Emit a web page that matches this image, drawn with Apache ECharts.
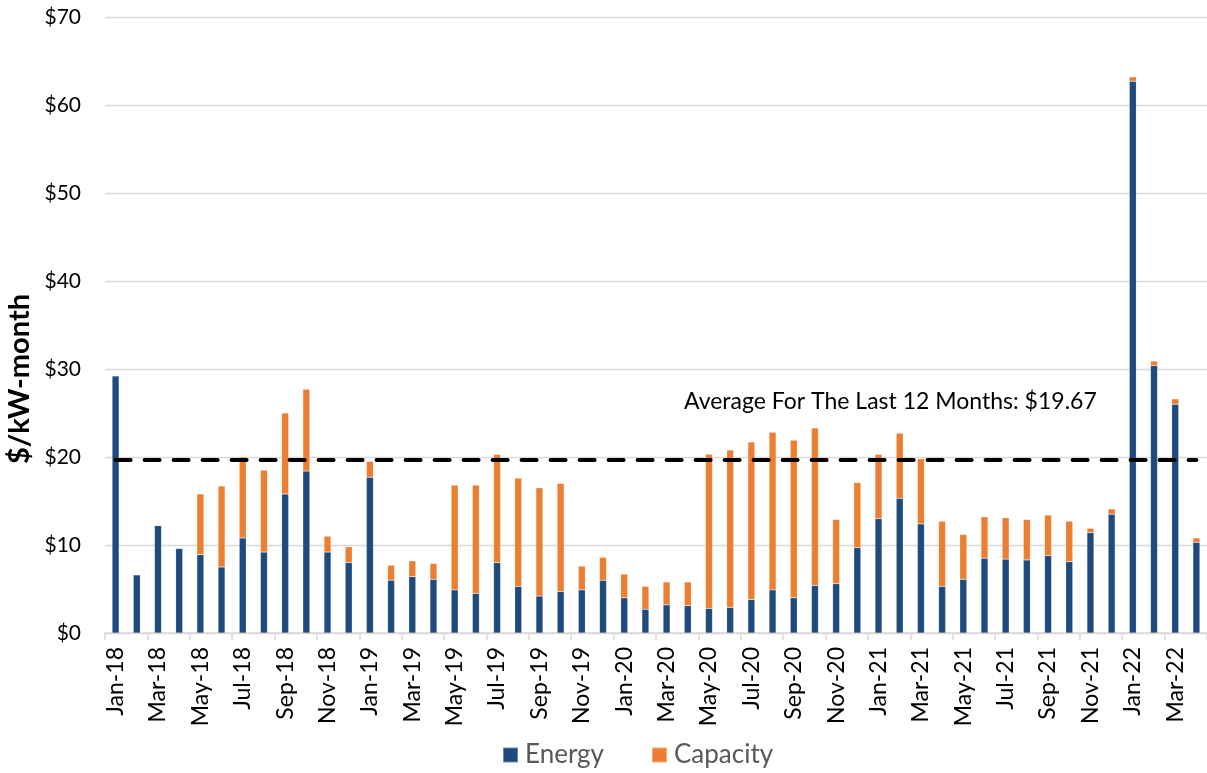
<!DOCTYPE html>
<html>
<head>
<meta charset="utf-8">
<script src="https://cdn.jsdelivr.net/npm/echarts@6/dist/echarts.min.js"></script>
<style>
  html, body { margin: 0; padding: 0; background: #fff; }
  #chart { width: 1207px; height: 773px; }
</style>
</head>
<body>
<div id="chart"></div>
<script>
// Monthly cost components, $/kW-month
const months = [
  'Jan-18','Feb-18','Mar-18','Apr-18','May-18','Jun-18','Jul-18','Aug-18','Sep-18','Oct-18','Nov-18','Dec-18',
  'Jan-19','Feb-19','Mar-19','Apr-19','May-19','Jun-19','Jul-19','Aug-19','Sep-19','Oct-19','Nov-19','Dec-19',
  'Jan-20','Feb-20','Mar-20','Apr-20','May-20','Jun-20','Jul-20','Aug-20','Sep-20','Oct-20','Nov-20','Dec-20',
  'Jan-21','Feb-21','Mar-21','Apr-21','May-21','Jun-21','Jul-21','Aug-21','Sep-21','Oct-21','Nov-21','Dec-21',
  'Jan-22','Feb-22','Mar-22','Apr-22'
];

const energy = [
  29.2, 6.6, 12.2, 9.6, 8.9, 7.5, 10.8, 9.2, 15.8, 18.4, 9.2, 8.0,
  17.7, 6.0, 6.4, 6.1, 4.9, 4.5, 8.0, 5.3, 4.2, 4.7, 4.9, 6.0,
  4.0, 2.7, 3.2, 3.1, 2.8, 2.9, 3.8, 4.9, 4.0, 5.4, 5.6, 9.7,
  13.0, 15.3, 12.4, 5.3, 6.1, 8.5, 8.4, 8.3, 8.8, 8.1, 11.4, 13.5,
  62.7, 30.4, 26.0, 10.3
];

const capacity = [
  -0.1, -0.1, -0.1, -0.1, 6.9, 9.2, 9.2, 9.3, 9.2, 9.3, 1.8, 1.8,
  1.8, 1.7, 1.8, 1.8, 11.9, 12.3, 12.3, 12.3, 12.3, 12.3, 2.7, 2.6,
  2.7, 2.6, 2.6, 2.7, 17.5, 17.9, 17.9, 17.9, 17.9, 17.9, 7.3, 7.4,
  7.3, 7.4, 7.4, 7.4, 5.1, 4.7, 4.7, 4.6, 4.6, 4.6, 0.5, 0.6,
  0.5, 0.5, 0.6, 0.5
];

const yTicks = [0, 10, 20, 30, 40, 50, 60, 70];
const average12 = 19.67;
const averageLabel = 'Average For The Last 12 Months: $' + average12.toFixed(2);

const FONT = 'Lato, "Open Sans", sans-serif';
const BLUE = '#1f4a7c';
const ORANGE = '#ed7d31';

const chart = echarts.init(document.getElementById('chart'), null, { renderer: 'canvas' });

chart.setOption({
  animation: false,
  backgroundColor: '#ffffff',
  grid: { left: 105, right: -7, top: 17, bottom: 140, containLabel: false },
  legend: {
    top: 737,
    left: 497,
    itemWidth: 15,
    itemHeight: 15,
    itemGap: 47,
    icon: 'rect',
    textStyle: { fontFamily: FONT, fontSize: 26, color: '#595959', padding: [0, 0, 0, 2] },
    data: ['Energy', 'Capacity']
  },
  xAxis: {
    type: 'category',
    data: months,
    boundaryGap: true,
    axisLine: { show: true, lineStyle: { color: '#d9d9d9', width: 1.5 } },
    axisTick: { show: true, interval: 1, length: 7, lineStyle: { color: '#d9d9d9', width: 1.5 } },
    axisLabel: {
      interval: 1,
      rotate: 90,
      margin: 14,
      fontFamily: FONT,
      fontSize: 23,
      color: '#000'
    },
    splitLine: { show: false }
  },
  yAxis: {
    type: 'value',
    min: yTicks[0],
    max: yTicks[yTicks.length - 1],
    interval: 10,
    axisLine: { show: false },
    axisTick: { show: false },
    axisLabel: {
      margin: 24,
      fontFamily: FONT,
      fontSize: 21,
      color: '#000',
      formatter: v => '$' + v
    },
    splitLine: { lineStyle: { color: '#d9d9d9', width: 1.3 } }
  },
  series: [
    {
      name: 'Energy',
      type: 'bar',
      stack: 'cost',
      barWidth: 7,
      itemStyle: { color: BLUE, borderColor: 'rgba(255,255,255,0.35)', borderWidth: 0.5 },
      data: energy
    },
    {
      name: 'Capacity',
      type: 'bar',
      stack: 'cost',
      barWidth: 7,
      itemStyle: { color: ORANGE, borderColor: 'rgba(255,255,255,0.35)', borderWidth: 0.5 },
      data: capacity,
      markLine: {
        silent: true,
        symbol: 'none',
        lineStyle: { color: '#000', width: 4, type: [15, 14], cap: 'round' },
        label: { show: false },
        data: [[
          { xAxis: 0, yAxis: average12 },
          { xAxis: months.length - 1, yAxis: average12 }
        ]]
      }
    }
  ]
});

// Caption for the 12-month average, placed just above the dashed line
const avgY = chart.convertToPixel({ yAxisIndex: 0 }, average12);
chart.setOption({
  graphic: [
    {
      type: 'text',
      left: 684,
      top: avgY - 70,
      style: { text: averageLabel, fontFamily: FONT, fontSize: 23, fill: '#000' }
    },
    {
      type: 'text',
      x: 20,
      y: 379,
      rotation: Math.PI / 2,
      style: {
        text: '$/kW-month',
        fontFamily: FONT,
        fontSize: 29,
        fontWeight: 'bold',
        fill: '#000',
        align: 'center',
        verticalAlign: 'middle'
      }
    }
  ]
});
</script>
</body>
</html>
